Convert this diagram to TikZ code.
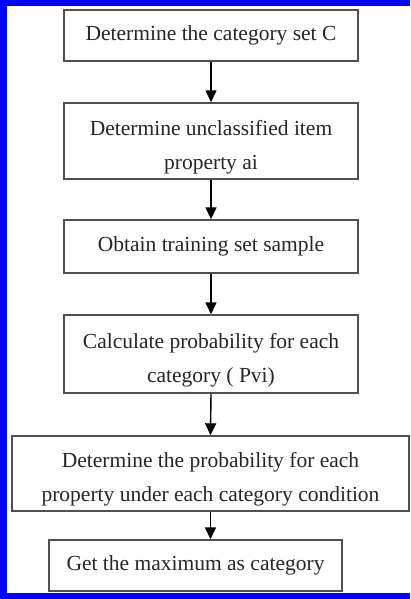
\documentclass[tikz,border=0pt]{standalone}
\usepackage{fontspec}
\setmainfont{Liberation Serif}
\usetikzlibrary{arrows.meta}
\definecolor{edgegray}{HTML}{505050}
\definecolor{txtgray}{HTML}{262626}
\definecolor{frameblue}{HTML}{0000FF}
\begin{document}
\begin{tikzpicture}[x=1pt,y=-1pt,
  stepbox/.style={draw=edgegray,line width=1.4pt,fill=white,inner sep=0pt,
    align=center,text=txtgray,font=\fontsize{21.5}{34}\selectfont,
    minimum width=294pt},
  twoline/.style={text height=61pt},
  flow/.style={draw=black,line width=1.4pt,-{Triangle[width=11pt,length=12pt]}}]
\useasboundingbox (0,0) rectangle (410,599);
\fill[frameblue] (0,0) rectangle (410,6);
\fill[frameblue] (0,0) rectangle (7,599);
\fill[frameblue] (0,593) rectangle (410,599);
\node[stepbox,minimum height=51pt] (b1) at (211,35.5) {Determine the category set C};
\node[stepbox,twoline,minimum height=76pt] (b2) at (211,141) {Determine unclassified item\\property ai};
\node[stepbox,minimum height=53pt] (b3) at (211,246.5) {Obtain training set sample};
\node[stepbox,twoline,minimum height=78pt] (b4) at (211,354) {Calculate probability for each\\category ( Pvi)};
\node[stepbox,twoline,minimum height=75pt,minimum width=397pt] (b5) at (210.5,473.5) {Determine the probability for each\\property under each category condition};
\node[stepbox,minimum height=51pt,minimum width=293pt] (b6) at (195.5,565.5) {Get the maximum as category};
\draw[flow] (b1.south) -- (b2.north);
\draw[flow] (b2.south) -- (b3.north);
\draw[flow] (b3.south) -- (b4.north);
\draw[flow] (b4.south) -- (b5.north);
\draw[flow] (b5.south) -- (b5.south |- b6.north);
\end{tikzpicture}
\end{document}
